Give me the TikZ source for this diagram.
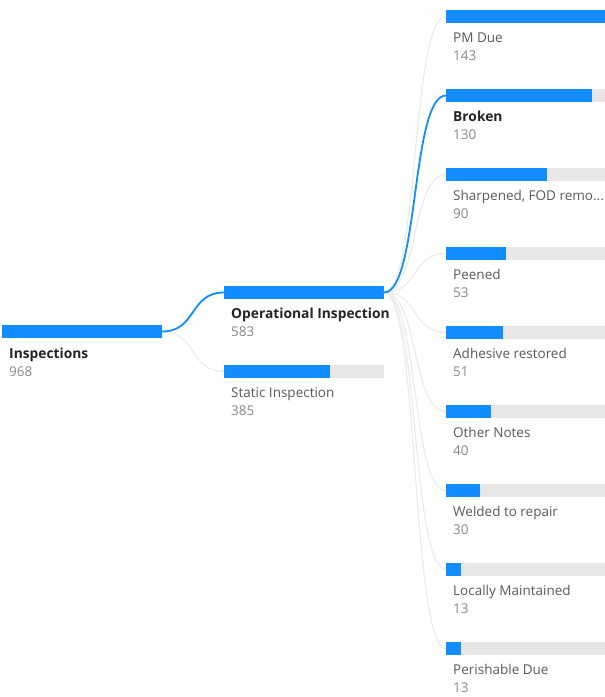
\documentclass[tikz,border=0pt]{standalone}
\usepackage{fontspec}
\setmainfont{Open Sans}
\definecolor{pbblue}{HTML}{118DFF}
\definecolor{bargrey}{HTML}{E8E6E6}
\definecolor{namegrey}{HTML}{5A5856}
\definecolor{valgrey}{HTML}{8A8886}
\definecolor{boldtxt}{HTML}{252423}
\definecolor{linkgrey}{HTML}{EDEBE9}
\begin{document}
\begin{tikzpicture}[x=1pt,y=-1pt,
  bgbar/.style={fill=bargrey,draw=none,minimum width=160pt,minimum height=13pt,inner sep=0,anchor=north west,outer sep=0},
  fgbar/.style={fill=pbblue,draw=none,minimum height=13pt,inner sep=0,anchor=north west,outer sep=0},
  namelbl/.style={anchor=base west,inner sep=0,text=namegrey,font=\fontsize{13.5}{16}\selectfont},
  boldlbl/.style={anchor=base west,inner sep=0,text=boldtxt,font=\fontsize{13.8}{16}\selectfont\bfseries},
  vallbl/.style={anchor=base west,inner sep=0,text=valgrey,font=\fontsize{13.5}{16}\selectfont},
  sellink/.style={draw=pbblue,line width=1.8pt},
  link/.style={draw=linkgrey,line width=1.2pt}]
\useasboundingbox (0,0) rectangle (605,697);
% Level 1
\node[bgbar] (insbg) at (2,325) {};
\node[fgbar,minimum width=160pt] (insfg) at (2,325) {};
\node[boldlbl] (insn) at (9,358) {Inspections};
\node[vallbl] (insv) at (9,376) {968};
% Level 2
\node[bgbar] (opbg) at (224,286) {};
\node[fgbar,minimum width=160pt] (opfg) at (224,286) {};
\node[boldlbl] (opn) at (231,318) {Operational Inspection};
\node[vallbl] (opv) at (231,336) {583};
\node[bgbar] (stbg) at (224,365) {};
\node[fgbar,minimum width=106pt] (stfg) at (224,365) {};
\node[namelbl] (stn) at (231,397) {Static Inspection};
\node[vallbl] (stv) at (231,415) {385};
% Level 3
\node[bgbar] (c1bg) at (446,10) {};
\node[fgbar,minimum width=160pt] (c1fg) at (446,10) {};
\node[namelbl] (c1n) at (453,42) {PM Due};
\node[vallbl] (c1v) at (453,60) {143};
\node[bgbar] (c2bg) at (446,89) {};
\node[fgbar,minimum width=146pt] (c2fg) at (446,89) {};
\node[boldlbl] (c2n) at (453,121) {Broken};
\node[vallbl] (c2v) at (453,139) {130};
\node[bgbar] (c3bg) at (446,168) {};
\node[fgbar,minimum width=101pt] (c3fg) at (446,168) {};
\node[namelbl] (c3n) at (453,200) {Sharpened, FOD remo...};
\node[vallbl] (c3v) at (453,218) {90};
\node[bgbar] (c4bg) at (446,247) {};
\node[fgbar,minimum width=60pt] (c4fg) at (446,247) {};
\node[namelbl] (c4n) at (453,279) {Peened};
\node[vallbl] (c4v) at (453,297) {53};
\node[bgbar] (c5bg) at (446,326) {};
\node[fgbar,minimum width=57pt] (c5fg) at (446,326) {};
\node[namelbl] (c5n) at (453,358) {Adhesive restored};
\node[vallbl] (c5v) at (453,376) {51};
\node[bgbar] (c6bg) at (446,405) {};
\node[fgbar,minimum width=45pt] (c6fg) at (446,405) {};
\node[namelbl] (c6n) at (453,437) {Other Notes};
\node[vallbl] (c6v) at (453,455) {40};
\node[bgbar] (c7bg) at (446,484) {};
\node[fgbar,minimum width=34pt] (c7fg) at (446,484) {};
\node[namelbl] (c7n) at (453,516) {Welded to repair};
\node[vallbl] (c7v) at (453,534) {30};
\node[bgbar] (c8bg) at (446,563) {};
\node[fgbar,minimum width=15pt] (c8fg) at (446,563) {};
\node[namelbl] (c8n) at (453,595) {Locally Maintained};
\node[vallbl] (c8v) at (453,613) {13};
\node[bgbar] (c9bg) at (446,642) {};
\node[fgbar,minimum width=15pt] (c9fg) at (446,642) {};
\node[namelbl] (c9n) at (453,674) {Perishable Due};
\node[vallbl] (c9v) at (453,692) {13};
% connectors
\foreach \c in {c1,c3,c4,c5,c6,c7,c8,c9}{
  \draw[link] (opbg.east) .. controls +(35,0) and +(-35,0) .. (\c bg.west);
}
\draw[link] (insbg.east) .. controls +(35,0) and +(-35,0) .. (stbg.west);
\draw[sellink] (insbg.east) .. controls +(35,0) and +(-35,0) .. (opbg.west);
\draw[sellink] (opbg.east) .. controls +(35,0) and +(-35,0) .. (c2bg.west);
\end{tikzpicture}
\end{document}
